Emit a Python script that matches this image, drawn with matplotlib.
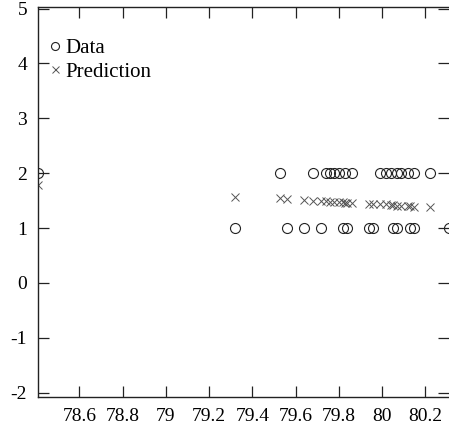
import matplotlib
matplotlib.use("Agg")
import matplotlib.pyplot as plt

plt.rcParams['font.family'] = ['Liberation Serif', 'DejaVu Serif']
plt.rcParams['axes.unicode_minus'] = False

# Observed data (x, label)
data_x = [78.41, 79.32, 79.53, 79.56, 79.64, 79.68, 79.72, 79.74, 79.76, 79.78,
          79.80, 79.82, 79.83, 79.84, 79.86, 79.94, 79.96, 79.99, 80.02, 80.04,
          80.05, 80.07, 80.07, 80.09, 80.12, 80.13, 80.15, 80.15, 80.22, 80.31]
data_y = [2, 1, 2, 1, 1, 2, 1, 2, 2, 2,
          2, 1, 2, 1, 2, 1, 1, 2, 2, 2,
          1, 2, 1, 2, 2, 1, 2, 1, 2, 1]
# Model prediction
pred_x = [78.41, 79.32, 79.53, 79.56, 79.64, 79.68, 79.72, 79.74, 79.76, 79.78,
          79.80, 79.82, 79.83, 79.84, 79.86, 79.94, 79.96, 79.99, 80.02, 80.04,
          80.05, 80.07, 80.09, 80.12, 80.13, 80.15, 80.22]
pred_y = [1.79, 1.57, 1.54, 1.53, 1.51, 1.50, 1.49, 1.49, 1.48, 1.48,
          1.47, 1.47, 1.46, 1.46, 1.46, 1.44, 1.44, 1.43, 1.43, 1.42,
          1.42, 1.41, 1.41, 1.40, 1.40, 1.39, 1.38]

xticks = [78.6, 78.8, 79.0, 79.2, 79.4, 79.6, 79.8, 80.0, 80.2]
xtick_labels = ["78.6", "78.8", "79", "79.2", "79.4", "79.6", "79.8", "80", "80.2"]
yticks = [-2, -1, 0, 1, 2, 3, 4, 5]
ytick_labels = ["-2", "-1", "0", "1", "2", "3", "4", "5"]

fig = plt.figure(figsize=(4.49, 4.33), dpi=100)
ax = fig.add_axes([38.3 / 449, 36 / 433, 1 - 38.3 / 449, (397 - 7) / 433])

ax.plot(data_x, data_y, linestyle='none', marker='o', markersize=7.2,
        markerfacecolor='none', markeredgecolor='#222222', markeredgewidth=0.8,
        label='Data')
ax.plot(pred_x, pred_y, linestyle='none', marker='x', markersize=6.3,
        markeredgecolor='#555555', markeredgewidth=0.7, label='Prediction')

ax.set_xlim(78.41, 80.31)
ax.set_ylim(-2.08, 5.03)
ax.set_xticks(xticks)
ax.set_xticklabels(xtick_labels)
ax.set_yticks(yticks)
ax.set_yticklabels(ytick_labels)

ax.tick_params(direction='in', length=8, width=0.9, color='#222222',
               labelsize=14, top=True, right=True, pad=8)
ax.spines['right'].set_visible(False)
for s in ['left', 'bottom', 'top']:
    ax.spines[s].set_linewidth(1.0)
    ax.spines[s].set_color('#222222')

leg = ax.legend(loc='upper left', bbox_to_anchor=(-0.01, 0.957), frameon=False,
                fontsize=15, handlelength=0.6, handletextpad=0.2,
                labelspacing=0.2, markerscale=0.8, borderaxespad=0.3)

fig.savefig('out.png', dpi=100)
